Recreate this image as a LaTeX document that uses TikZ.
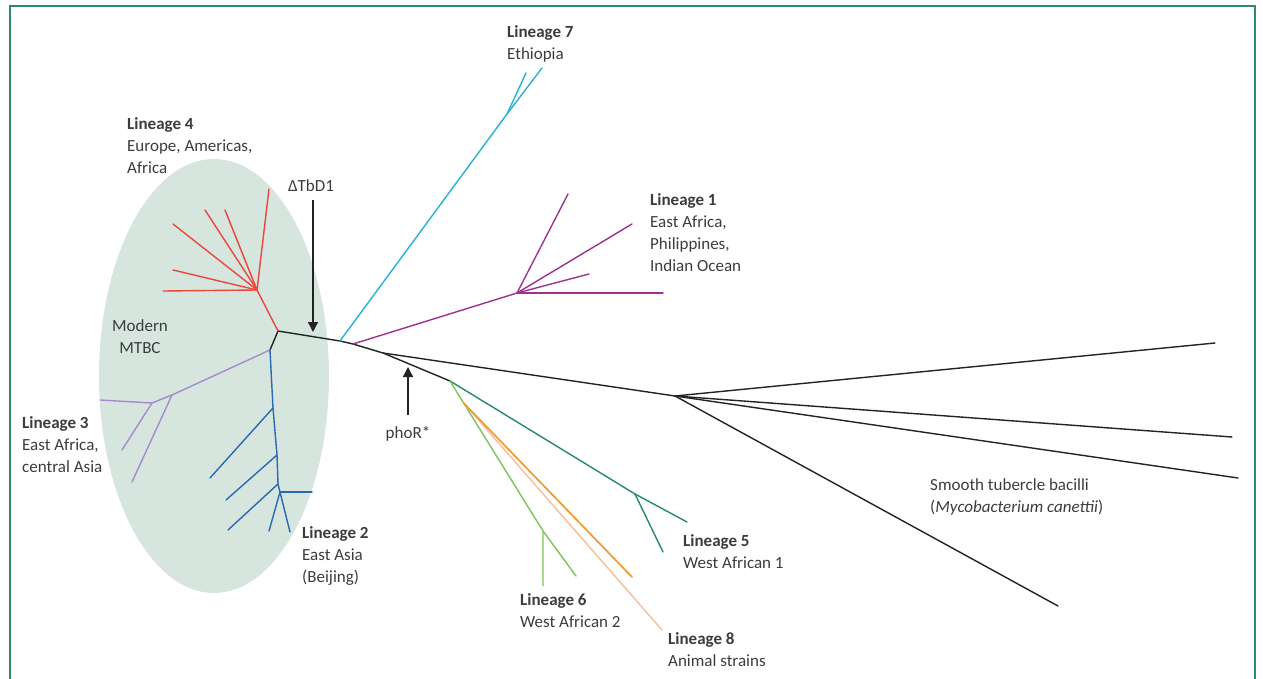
\documentclass[tikz,border=0pt]{standalone}
\usepackage{fontspec}
\setmainfont{Carlito}
\usetikzlibrary{shapes.geometric,arrows.meta,calc}
\definecolor{framec}{RGB}{47,138,104}
\definecolor{ellc}{RGB}{214,230,223}
\definecolor{txt}{RGB}{60,60,60}
\definecolor{blk}{RGB}{35,35,35}
\definecolor{l4c}{RGB}{234,70,58}
\definecolor{l3c}{RGB}{168,138,200}
\definecolor{l2c}{RGB}{40,105,178}
\definecolor{l7c}{RGB}{38,178,212}
\definecolor{l1c}{RGB}{158,50,145}
\definecolor{l5c}{RGB}{38,138,104}
\definecolor{l6c}{RGB}{126,196,90}
\definecolor{l8c}{RGB}{243,154,43}
\definecolor{l8b}{RGB}{246,190,156}
\begin{document}
\begin{tikzpicture}[x=1pt,y=-1pt,
  br/.style={line width=1.4pt,line cap=round},
  lab/.style={text=txt,inner sep=0pt,align=left,font=\fontsize{17}{22}\selectfont},
  arr/.style={blk,line width=1.3pt,-{Triangle[length=10pt,width=10pt]}},
  frame/.style={framec,line width=2.2pt}]
\useasboundingbox (0,0) rectangle (1263,679);
% frame
\draw[frame] (10,679) -- (10,6) -- (1255,6) -- (1255,679);
% modern MTBC ellipse
\node[ellipse,fill=ellc,draw=none,minimum width=230pt,minimum height=434pt,inner sep=0pt] (ell) at (214,376) {};
% junction coordinates
\coordinate (m) at (278,331);
\coordinate (n23) at (270,350);
\coordinate (n7) at (340,341);
\coordinate (n1) at (353,344);
\coordinate (nsplit) at (383,353);
\coordinate (nc) at (675,396);
\coordinate (n56) at (450,381);
\coordinate (l6n) at (543,531);
\coordinate (n8) at ($(n56)!0.147!(l6n)$);
\coordinate (l5n) at (635,494);
\coordinate (l1n) at (517,293);
\coordinate (l7n) at (507,114);
\coordinate (l4n) at (257,290);
% black backbone
\draw[br,blk] (n23) -- (m) -- (n7) -- (n1) -- (nsplit) -- (nc);
\draw[br,blk] (nsplit) -- (n56);
% canettii
\draw[br,blk] (nc) -- (1215,343);
\draw[br,blk] (nc) -- (1232,437);
\draw[br,blk] (nc) -- (1238,478);
\draw[br,blk] (nc) -- (1058,606);
% lineage 4
\draw[br,l4c] (m) -- (l4n);
\foreach \p in {(269,189),(225,210),(205,210),(173,224),(173,270),(163,291)}
  \draw[br,l4c] (l4n) -- \p;
% lineage 3
\coordinate (l3a) at (172,395);
\coordinate (l3b) at (152,403);
\draw[br,l3c] (n23) -- (l3a) -- (l3b) -- (100,400);
\draw[br,l3c] (l3b) -- (122,450);
\draw[br,l3c] (l3a) -- (132,482);
% lineage 2
\coordinate (p1) at (273,408);
\coordinate (p2) at (277,455);
\coordinate (p3) at (278,484);
\coordinate (p4) at (280,492);
\draw[br,l2c] (n23) -- (p1) -- (p2) -- (p3) -- (p4);
\draw[br,l2c] (p1) -- (210,478);
\draw[br,l2c] (p2) -- (226,500);
\draw[br,l2c] (p3) -- (228,530);
\draw[br,l2c] (p4) -- (312,492);
\draw[br,l2c] (p4) -- (269,531);
\draw[br,l2c] (p4) -- (290,532);
% lineage 7
\draw[br,l7c] (n7) -- (l7n) -- (526,73);
\draw[br,l7c] (l7n) -- (542,68);
% lineage 1
\draw[br,l1c] (n1) -- (l1n);
\foreach \p in {(568,194),(632,224),(589,274),(663,293)}
  \draw[br,l1c] (l1n) -- \p;
% lineage 5
\draw[br,l5c] (n56) -- (l5n) -- (687,522);
\draw[br,l5c] (l5n) -- (663,552);
% lineage 6
\draw[br,l6c] (n56) -- (l6n) -- (543,586);
\draw[br,l6c] (l6n) -- (576,576);
% lineage 8
\draw[br,l8b] (n8) -- (662,630);
\draw[br,l8c,line width=1.7pt] (n8) -- (632,577);
% labels (base anchor = baseline of last line)
\node[lab,anchor=base west] (t4) at (127,174) {\textbf{Lineage 4}\\Europe, Americas,\\Africa};
\node[lab,anchor=base west] (t7) at (507,60) {\textbf{Lineage 7}\\Ethiopia};
\node[lab,anchor=base west] (t1) at (650,271) {\textbf{Lineage 1}\\East Africa,\\Philippines,\\Indian Ocean};
\node[lab,anchor=base west] (t3) at (22,472) {\textbf{Lineage 3}\\East Africa,\\central Asia};
\node[lab,anchor=base west] (t2) at (302,582) {\textbf{Lineage 2}\\East Asia\\(Beijing)};
\node[lab,anchor=base west] (t5) at (683,568) {\textbf{Lineage 5}\\West African 1};
\node[lab,anchor=base west] (t6) at (520,627) {\textbf{Lineage 6}\\West African 2};
\node[lab,anchor=base west] (t8) at (668,666) {\textbf{Lineage 8}\\Animal strains};
\node[lab,anchor=base west] (tc) at (930,512) {Smooth tubercle bacilli\\(\textit{Mycobacterium canettii})};
\node[lab,align=center,anchor=base] (tm) at (140,353) {Modern\\MTBC};
% arrows
\node[lab,anchor=base] (tbd) at (311,192) {ΔTbD1};
\coordinate (tbdtail) at (313,200);
\coordinate (tbdtip) at (313,332);
\draw[arr] (tbdtail) -- (tbdtip);
\node[lab,anchor=base] (phor) at (408,438) {phoR*};
\coordinate (phortail) at (408,415);
\coordinate (phortip) at (408,367);
\draw[arr] (phortail) -- (phortip);
\end{tikzpicture}
\end{document}
